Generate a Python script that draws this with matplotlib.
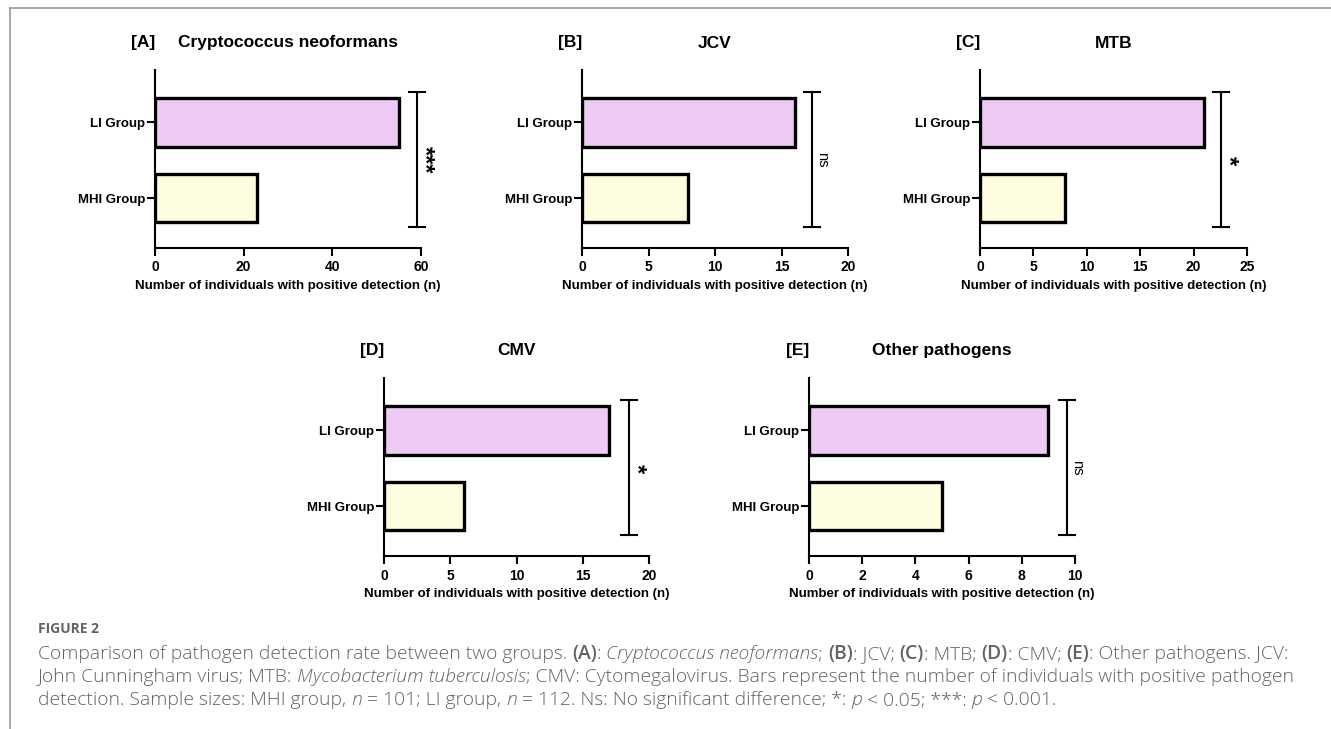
import matplotlib
matplotlib.use("Agg")
import matplotlib.pyplot as plt
from matplotlib.font_manager import FontProperties
from matplotlib.lines import Line2D

# ---------------- data ----------------
groups = ["MHI Group", "LI Group"]
panel_labels = ["[A]", "[B]", "[C]", "[D]", "[E]"]
panel_titles = ["Cryptococcus neoformans", "JCV", "MTB", "CMV", "Other pathogens"]
mhi_counts = [23, 8, 8, 6, 5]
li_counts = [55, 16, 21, 17, 9]
x_max = [60, 20, 25, 20, 10]
x_step = [20, 5, 5, 5, 2]
signif = ["***", "ns", "*", "*", "ns"]
bracket_x = [59.1, 17.3, 22.6, 18.5, 9.7]
x_label = "Number of individuals with positive detection (n)"

W, H = 1331, 729
fig = plt.figure(figsize=(W / 100, H / 100), dpi=100)
fig.patch.set_facecolor("white")

# axes boxes in pixels: (left, right, top, bottom)
boxes = [(155, 421, 70, 248), (582, 848, 70, 248), (980, 1247, 70, 248),
         (384, 649, 378, 556), (809, 1075, 378, 556)]

col_li = "#EECBF5"
col_mhi = "#FEFDE0"
FONT = "Liberation Sans"

for i in range(5):
    l, r, t, b = boxes[i]
    ax = fig.add_axes([l / W, 1 - b / H, (r - l) / W, (b - t) / H])
    ys = [0, 1]
    vals = [mhi_counts[i], li_counts[i]]
    ax.barh(ys, vals, height=0.64, color=[col_mhi, col_li], edgecolor="black",
            linewidth=2.4, zorder=3)
    ax.set_xlim(0, x_max[i])
    ax.set_ylim(-0.66, 1.69)
    ax.set_xticks(list(range(0, x_max[i] + 1, x_step[i])))
    ax.set_yticks(ys)
    ax.set_yticklabels(groups)
    for s in ["top", "right"]:
        ax.spines[s].set_visible(False)
    for s in ["left", "bottom"]:
        ax.spines[s].set_linewidth(1.5)
    ax.tick_params(axis="both", width=1.5, length=6, labelsize=9.5, color="black")
    ax.tick_params(axis="x", labelsize=10)
    ax.tick_params(axis="y", pad=1)
    ax.tick_params(axis="x", pad=3)
    for lab in ax.get_xticklabels() + ax.get_yticklabels():
        lab.set_fontfamily(FONT)
        lab.set_fontweight("bold")
    ax.set_xlabel(x_label, fontfamily=FONT, fontweight="bold", fontsize=9.5, labelpad=4)

    # significance bracket
    bx = bracket_x[i]
    y0, y1 = -0.38, 1.40
    capw = 8 * x_max[i] / (r - l)
    ax.plot([bx, bx], [y0, y1], color="black", lw=1.5, clip_on=False, zorder=4)
    ax.plot([bx - capw, bx + capw], [y1, y1], color="black", lw=1.5, clip_on=False, zorder=4)
    ax.plot([bx - capw, bx + capw], [y0, y0], color="black", lw=1.5, clip_on=False, zorder=4)
    if signif[i] == "ns":
        ax.text(bx + 10 * x_max[i] / (r - l), 0.5, "ns", rotation=-90, ha="center", va="center",
                fontfamily=FONT, fontsize=10.5, clip_on=False)
    else:
        ax.text(bx + 7 * x_max[i] / (r - l), 0.5, signif[i], rotation=-90, ha="center", va="center",
                fontfamily=FONT, fontweight="bold", fontsize=17, clip_on=False)

    # titles
    fig.text(l / W, 1 - (t - 27) / H, panel_labels[i], ha="right", va="center",
             fontfamily=FONT, fontweight="bold", fontsize=12.5)
    fig.text((l + r) / 2 / W, 1 - (t - 27) / H, panel_titles[i], ha="center", va="center",
             fontfamily=FONT, fontweight="bold", fontsize=12.5)

# frame lines
fig.add_artist(Line2D([10 / W, 1.0], [1 - 7.5 / H, 1 - 7.5 / H], color="#9a9a9a", lw=1.2,
                      transform=fig.transFigure))
fig.add_artist(Line2D([10 / W, 10 / W], [1 - 7.5 / H, 0.0], color="#9a9a9a", lw=1.2,
                      transform=fig.transFigure))

# ---------------- caption ----------------
fig_label = "FIGURE 2"
caption_lines = [
    [("Comparison of pathogen detection rate between two groups. ", "n"), ("(A)", "b"), (": ", "n"),
     ("Cryptococcus neoformans", "i"), ("; ", "n"), ("(B)", "b"), (": JCV; ", "n"), ("(C)", "b"),
     (": MTB; ", "n"), ("(D)", "b"), (": CMV; ", "n"), ("(E)", "b"), (": Other pathogens. JCV:", "n")],
    [("John Cunningham virus; MTB: ", "n"), ("Mycobacterium tuberculosis", "i"),
     ("; CMV: Cytomegalovirus. Bars represent the number of individuals with positive pathogen", "n")],
    [("detection. Sample sizes: MHI group, ", "n"), ("n", "i"), (" = 101; LI group, ", "n"), ("n", "i"),
     (" = 112. Ns: No significant difference; *: ", "n"), ("p", "i"), (" < 0.05; ***: ", "n"),
     ("p", "i"), (" < 0.001.", "n")],
]
cap_color = "#5f6468"
CAP_FONT = "Open Sans"

def fp_for(style, size):
    if style == "b":
        return FontProperties(family=CAP_FONT, weight="semibold", size=size)
    if style == "i":
        return FontProperties(family=CAP_FONT, style="italic", weight="light", size=size)
    return FontProperties(family=CAP_FONT, weight="light", size=size)

renderer = fig.canvas.get_renderer()

def seg_width(s, fp):
    t1 = fig.text(0, 0, "|" + s + "|", fontproperties=fp)
    w1 = t1.get_window_extent(renderer).width
    t1.remove()
    t2 = fig.text(0, 0, "||", fontproperties=fp)
    w2 = t2.get_window_extent(renderer).width
    t2.remove()
    return w1 - w2

# fit the first caption line to the reference width
base = 11.0
w0 = sum(seg_width(s, fp_for(st, base)) for s, st in caption_lines[0])
cap_size = base * 1252.0 / w0

fig.text(38 / W, 1 - 629 / H, fig_label, ha="left", va="center", color=cap_color,
         fontfamily=CAP_FONT, fontweight="bold", fontsize=10)
line_y = [652, 675, 698]
for li, segs in enumerate(caption_lines):
    x = 38.0
    for s, st in segs:
        fp = fp_for(st, cap_size)
        fig.text(x / W, 1 - line_y[li] / H, s, ha="left", va="center_baseline", color=cap_color,
                 fontproperties=fp)
        x += seg_width(s, fp)

fig.savefig("out.png", dpi=100, facecolor="white")
